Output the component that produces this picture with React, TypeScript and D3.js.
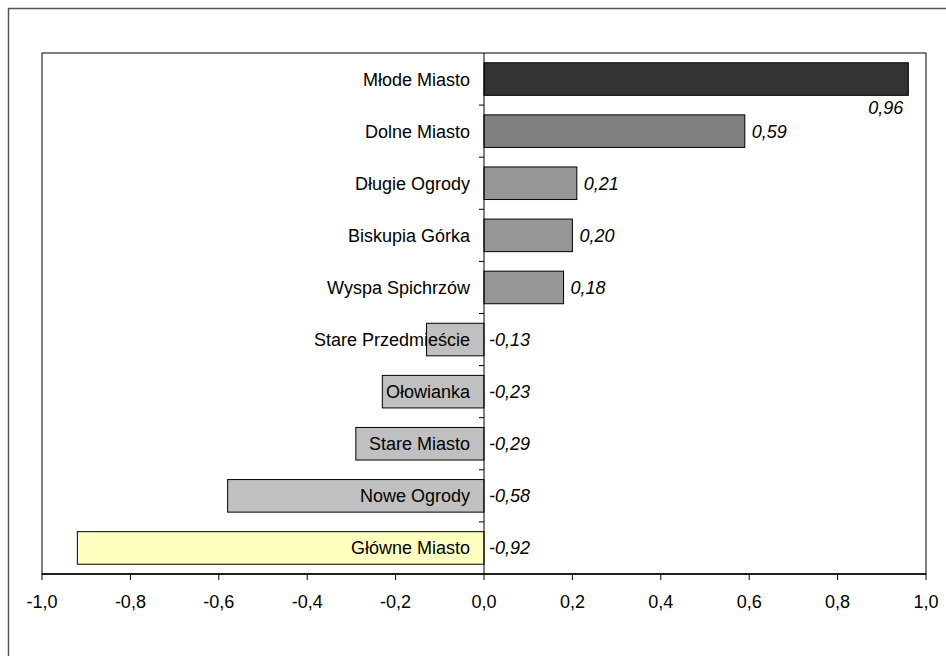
import React from "react";
import * as d3 from "d3";

const categories = [
  "Młode Miasto",
  "Dolne Miasto",
  "Długie Ogrody",
  "Biskupia Górka",
  "Wyspa Spichrzów",
  "Stare Przedmieście",
  "Ołowianka",
  "Stare Miasto",
  "Nowe Ogrody",
  "Główne Miasto",
];
const values = [0.96, 0.59, 0.21, 0.2, 0.18, -0.13, -0.23, -0.29, -0.58, -0.92];
const barColors = [
  "#333333",
  "#808080",
  "#969696",
  "#969696",
  "#969696",
  "#C0C0C0",
  "#C0C0C0",
  "#C0C0C0",
  "#C0C0C0",
  "#FFFFC0",
];
const xTicks = [-1, -0.8, -0.6, -0.4, -0.2, 0, 0.2, 0.4, 0.6, 0.8, 1];

const W = 946;
const H = 656;
const left = 42;
const right = 926;
const top = 53;
const bottom = 574;
const font = "'Liberation Sans', Arial, sans-serif";
const fs = 18;

const fmt = (v: number, d: number) => v.toFixed(d).replace(".", ",");

export default function App() {
  const x = d3.scaleLinear().domain([-1, 1]).range([left, right]);
  const y = d3
    .scaleBand<string>()
    .domain(categories)
    .range([top, bottom])
    .paddingInner(0.375)
    .paddingOuter(0.1875);
  const band = (bottom - top) / categories.length;
  const x0 = x(0);

  return (
    <svg
      width={W}
      height={H}
      style={{ position: "absolute", left: 0, top: 0, background: "#fff" }}
      fontFamily={font}
    >
      <rect x={0} y={0} width={W} height={H} fill="#fff" />
      {/* outer chart border */}
      <path d={`M8.5,${H + 5} V8.5 H${W + 5}`} fill="none" stroke="#555" strokeWidth={1.5} />
      {/* plot area */}
      <rect x={left} y={top} width={right - left} height={bottom - top} fill="#fff" stroke="#000" strokeWidth={1} />
      {/* bars */}
      {categories.map((c, i) => {
        const v = values[i];
        const bx = Math.min(x(v), x0);
        const bw = Math.abs(x(v) - x0);
        return (
          <rect
            key={c}
            x={bx}
            y={y(c)!}
            width={bw}
            height={y.bandwidth()}
            fill={barColors[i]}
            stroke="#000"
            strokeWidth={1}
          />
        );
      })}
      {/* zero line */}
      <line x1={x0} x2={x0} y1={top} y2={bottom} stroke="#000" strokeWidth={1} />
      {/* category ticks */}
      {d3.range(1, categories.length).map((i) => (
        <line key={i} x1={x0 - 5} x2={x0} y1={top + i * band} y2={top + i * band} stroke="#000" />
      ))}
      {/* x axis line */}
      <line x1={left} x2={right} y1={bottom} y2={bottom} stroke="#000" strokeWidth={1.5} />
      {xTicks.map((t) => (
        <g key={t}>
          <line x1={x(t)} x2={x(t)} y1={bottom} y2={bottom + 6} stroke="#000" />
          <text x={x(t)} y={bottom + 34} fontSize={fs} textAnchor="middle" fill="#000">
            {fmt(t, 1)}
          </text>
        </g>
      ))}
      {/* category labels */}
      {categories.map((c) => (
        <text
          key={c}
          x={x0 - 14}
          y={y(c)! + y.bandwidth() / 2 + 6.5}
          fontSize={fs}
          textAnchor="end"
          fill="#000"
        >
          {c}
        </text>
      ))}
      {/* value labels */}
      {categories.map((c, i) => {
        const v = values[i];
        const cy = y(c)! + y.bandwidth() / 2 + 6.5;
        if (v < 0) {
          return (
            <text key={c} x={x0 + 5} y={cy} fontSize={fs} fontStyle="italic" fill="#000">
              {fmt(v, 2)}
            </text>
          );
        }
        const end = x(v);
        if (end + 45 > right) {
          return (
            <text key={c} x={end - 5} y={y(c)! + y.bandwidth() + 19} fontSize={fs} fontStyle="italic" textAnchor="end" fill="#000">
              {fmt(v, 2)}
            </text>
          );
        }
        return (
          <text key={c} x={end + 7} y={cy} fontSize={fs} fontStyle="italic" fill="#000">
            {fmt(v, 2)}
          </text>
        );
      })}
    </svg>
  );
}
